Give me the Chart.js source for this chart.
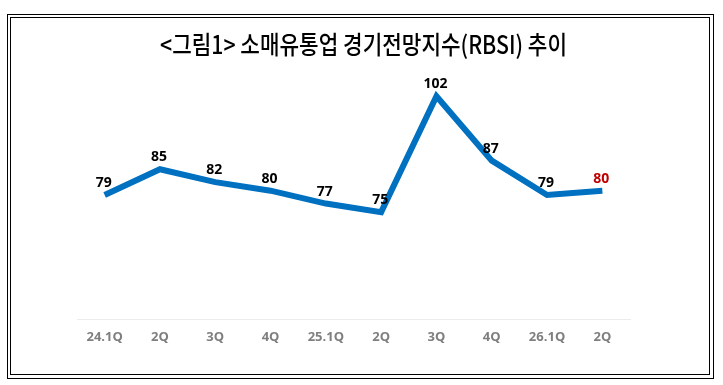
<!DOCTYPE html>
<html><head><meta charset="utf-8">
<script src="https://cdn.jsdelivr.net/npm/chart.js@4"></script>
<style>html,body{margin:0;padding:0;background:#fff;}canvas{display:block;}</style>
</head><body>
<canvas id="c" width="723" height="385"></canvas>
<script>
const titleText = '<그림1> 소매유통업 경기전망지수(RBSI) 추이';
const categories = ['24.1Q','2Q','3Q','4Q','25.1Q','2Q','3Q','4Q','26.1Q','2Q'];
const rbsiValues = [79, 85, 82, 80, 77, 75, 102, 87, 79, 80];
const labelColors = ['#000','#000','#000','#000','#000','#000','#000','#000','#000','#c00000'];

const framePlugin = {
  id: 'frame',
  beforeDraw(chart) {
    const ctx = chart.ctx;
    ctx.save();
    ctx.fillStyle = '#fff';
    ctx.fillRect(0, 0, chart.width, chart.height);
    ctx.strokeStyle = '#000';
    ctx.lineWidth = 1;
    ctx.strokeRect(7.5, 14.5, 706, 364);
    ctx.strokeRect(10.5, 17.5, 699, 357);
    ctx.font = '500 25px "Noto Sans CJK KR"';
    ctx.fillStyle = '#000';
    ctx.textBaseline = 'middle';
    ctx.textAlign = 'left';
    const w = ctx.measureText(titleText).width;
    const sx = 407 / w;
    ctx.translate(160, 44);
    ctx.scale(sx, 1);
    ctx.fillText(titleText, 0, 0);
    ctx.restore();
  },
  afterDatasetsDraw(chart) {
    const ctx = chart.ctx;
    const meta = chart.getDatasetMeta(0);
    ctx.save();
    ctx.font = 'bold 14px "Open Sans"';
    ctx.textAlign = 'center';
    ctx.textBaseline = 'middle';
    meta.data.forEach((pt, i) => {
      ctx.fillStyle = labelColors[i];
      ctx.fillText(String(rbsiValues[i]), pt.x - 1, pt.y - 12);
    });
    ctx.restore();
  }
};

new Chart(document.getElementById('c'), {
  type: 'line',
  data: {
    labels: categories,
    datasets: [{
      data: rbsiValues,
      borderColor: '#0070c0',
      borderWidth: 6,
      pointRadius: 0,
      tension: 0,
      fill: false,
      borderJoinStyle: 'miter',
      borderCapStyle: 'butt'
    }]
  },
  options: {
    responsive: false,
    animation: false,
    layout: { padding: { left: 77, right: 93, top: 62, bottom: 30 } },
    plugins: { legend: { display: false }, tooltip: { enabled: false }, title: { display: false } },
    scales: {
      x: {
        offset: true,
        grid: { display: false, drawTicks: false },
        border: { display: true, color: '#ececec', width: 1 },
        ticks: { color: '#7f7f7f', font: { family: '"Open Sans"', size: 13, weight: 'bold' }, padding: 10, maxRotation: 0, autoSkip: false }
      },
      y: {
        display: false,
        min: 50, max: 110
      }
    }
  },
  plugins: [framePlugin]
});
</script>
</body></html>
